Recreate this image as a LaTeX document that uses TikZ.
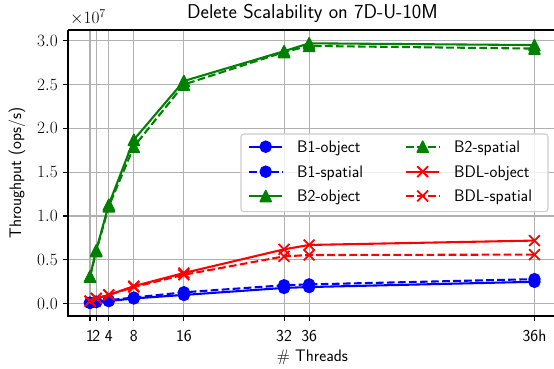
\documentclass[tikz,border=0pt]{standalone}
\usetikzlibrary{plotmarks}
\definecolor{mblue}{rgb}{0,0,1}
\definecolor{mgreen}{rgb}{0,0.5,0}
\definecolor{mred}{rgb}{1,0,0}
\definecolor{gridgray}{rgb}{0.69,0.69,0.69}
\definecolor{legedge}{rgb}{0.8,0.8,0.8}
\pgfdeclareplotmark{mtri}{%
  \pgfpathmoveto{\pgfqpoint{0pt}{\pgfplotmarksize}}%
  \pgfpathlineto{\pgfqpoint{-\pgfplotmarksize}{-\pgfplotmarksize}}%
  \pgfpathlineto{\pgfqpoint{\pgfplotmarksize}{-\pgfplotmarksize}}%
  \pgfpathclose\pgfusepathqfillstroke}
\pgfdeclareplotmark{mcross}{%
  \pgfpathmoveto{\pgfqpoint{-\pgfplotmarksize}{-\pgfplotmarksize}}%
  \pgfpathlineto{\pgfqpoint{\pgfplotmarksize}{\pgfplotmarksize}}%
  \pgfpathmoveto{\pgfqpoint{-\pgfplotmarksize}{\pgfplotmarksize}}%
  \pgfpathlineto{\pgfqpoint{\pgfplotmarksize}{-\pgfplotmarksize}}%
  \pgfusepathqstroke}
\tikzset{
  gridline/.style={draw=gridgray, line width=1.1pt},
  spine/.style={draw=black, line width=1.1pt},
  series/.style={line width=2.08pt, line join=round},
  dashseries/.style={series, dash pattern=on 7.7pt off 3.33pt},
  bluemk/.style={draw=mblue, mark=*, mark size=5.56pt, mark options={solid, fill=mblue, draw=mblue, line width=1.39pt}},
  greenmk/.style={draw=mgreen, mark=mtri, mark size=5.56pt, mark options={solid, fill=mgreen, draw=mgreen, line width=1.39pt}},
  redmk/.style={draw=mred, mark=mcross, mark size=5.4pt, mark options={solid, draw=mred, line width=1.8pt}},
  ticklab/.style={inner sep=0pt},
  sansfont/.style={font=\fontsize{16.7}{20}\selectfont\sffamily},
  legtext/.style={inner sep=0pt, anchor=base west, sansfont}
}
\begin{document}
\begin{tikzpicture}[x=1pt,y=1pt, font=\fontsize{16.7}{20}\selectfont]
\useasboundingbox (0,0) rectangle (554,369);
\begin{scope}[shift={(83.74pt,65.3pt)}, x=6.26pt, y=87.67pt]
  % grid
  \foreach \v in {1,2,4,8,16,32,36,72}
    \draw[gridline] (\v,-0.1403) -- (\v,3.122);
  \foreach \u in {0,0.5,1,1.5,2,2.5,3}
    \draw[gridline] (-2.514,\u) -- (75.12,\u);
  % spines
  \draw[spine] (-2.514,3.122) -- (-2.514,-0.1403) -- (75.12,-0.1403);
  \draw[spine] (-2.514,3.122) -- (75.12,3.122);
  % ticks and labels
  \foreach \v/\l [count=\i] in {1/1,2/2,4/4,8/8,16/16,32/32,36/36,72/36h}{
    \draw[spine] (\v,-0.1403) -- ++(0,-4.9pt);
    \node[ticklab, sansfont, anchor=base] (xt\i) at ([yshift=-38pt]\v,0) {\l};
  }
  \foreach \u/\l [count=\i] in {0/0.0,0.5/0.5,1/1.0,1.5/1.5,2/2.0,2.5/2.5,3/3.0}{
    \draw[spine] (-2.514,\u) -- ++(-4.9pt,0);
    \node[ticklab, anchor=east] (yt\i) at ([xshift=-25.8pt]0,\u) {$\l$};
  }
  % data
  \draw[series, bluemk] plot coordinates {(1,0.01) (2,0.02) (4,0.03) (8,0.06) (16,0.10) (32,0.18) (36,0.19) (72,0.25)};
  \draw[dashseries, bluemk] plot coordinates {(1,0.01) (2,0.02) (4,0.04) (8,0.07) (16,0.13) (32,0.21) (36,0.22) (72,0.28)};
  \draw[series, greenmk] plot coordinates {(1,0.31) (2,0.61) (4,1.13) (8,1.87) (16,2.54) (32,2.88) (36,2.97) (72,2.95)};
  \draw[dashseries, greenmk] plot coordinates {(1,0.31) (2,0.60) (4,1.11) (8,1.79) (16,2.50) (32,2.87) (36,2.94) (72,2.91)};
  \draw[series, redmk] plot coordinates {(1,0.03) (2,0.06) (4,0.10) (8,0.20) (16,0.35) (32,0.62) (36,0.67) (72,0.72)};
  \draw[dashseries, redmk] plot coordinates {(1,0.03) (2,0.06) (4,0.10) (8,0.19) (16,0.33) (32,0.54) (36,0.555) (72,0.56)};
\end{scope}
% exponent, title, axis labels
\node[inner sep=0pt, anchor=base west] (expo) at (70,345) {$\times10^{7}$};
\node[inner sep=0pt, anchor=base, font=\fontsize{20}{24}\selectfont\sffamily] (title) at (312.4,350) {Delete Scalability on 7D-U-10M};
\node[inner sep=0pt, sansfont] (xlab) at (312.4,7) [anchor=base] {\# Threads};
\node[inner sep=0pt, sansfont, rotate=90] (ylab) at (17,196) {Throughput (ops/s)};
% legend
\draw[draw=legedge, line width=1.1pt, fill=white, fill opacity=0.8, rounded corners=3pt] (241,157.3) rectangle (548,235);
\draw[series, bluemk] plot[mark indices={2}] coordinates {(249,222.3) (265.7,222.3) (282.4,222.3)};
\draw[dashseries, bluemk] plot[mark indices={2}] coordinates {(249,197.3) (265.7,197.3) (282.4,197.3)};
\draw[series, greenmk] plot[mark indices={2}] coordinates {(249,173) (265.7,173) (282.4,173)};
\draw[dashseries, greenmk] plot[mark indices={2}] coordinates {(406,222.3) (422.7,222.3) (439.4,222.3)};
\draw[series, redmk] plot[mark indices={2}] coordinates {(406,197.3) (422.7,197.3) (439.4,197.3)};
\draw[dashseries, redmk] plot[mark indices={2}] coordinates {(406,173) (422.7,173) (439.4,173)};
\node[legtext] (l1) at (297,216.7) {B1-object};
\node[legtext] (l2) at (297,191.7) {B1-spatial};
\node[legtext] (l3) at (297,167.4) {B2-object};
\node[legtext] (l4) at (454,216.7) {B2-spatial};
\node[legtext] (l5) at (454,191.7) {BDL-object};
\node[legtext] (l6) at (454,167.4) {BDL-spatial};
\end{tikzpicture}
\end{document}
